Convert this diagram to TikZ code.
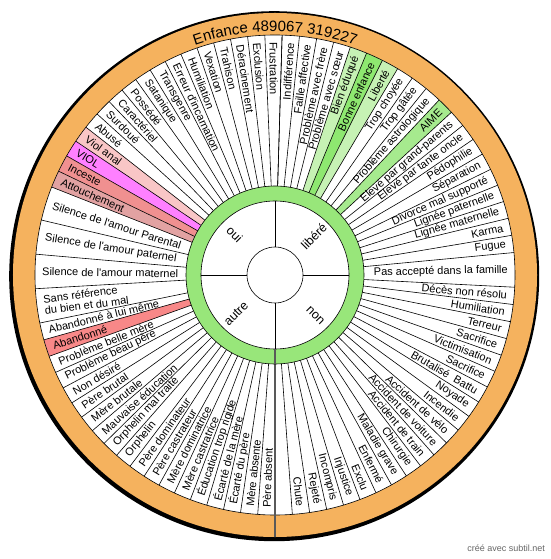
\documentclass[tikz,border=0pt]{standalone}
\usepackage{fontspec}
\setmainfont{Liberation Sans}
\usetikzlibrary{decorations.text}
\definecolor{ringorange}{HTML}{F5B25E}
\definecolor{ringgreen}{HTML}{98E67A}
\definecolor{lgreen}{HTML}{C6F2B4}
\definecolor{bgreen}{HTML}{8EE870}
\definecolor{agreen}{HTML}{A6EA8E}
\definecolor{lpink}{HTML}{F9C6C6}
\definecolor{magviol}{HTML}{FF80FF}
\definecolor{salmon}{HTML}{F09090}
\definecolor{dusty}{HTML}{E2A2A2}
\definecolor{redab}{HTML}{F88888}
\newcommand\uR{4.14651}
\newcommand\uL{4.12955}
\newcommand\wedgeR[3]{%
  \pgfmathsetmacro\aS{88.3-(#1)*\uR}%
  \pgfmathsetmacro\aE{88.3-(#1+#2)*\uR}%
  \fill[#3] (\aS:89) arc[start angle=\aS,end angle=\aE,radius=89] -- (\aE:240) arc[start angle=\aE,end angle=\aS,radius=240] -- cycle;}
\newcommand\wedgeL[3]{%
  \pgfmathsetmacro\aS{88.3+(#1)*\uL}%
  \pgfmathsetmacro\aE{88.3+(#1+#2)*\uL}%
  \fill[#3] (\aS:89) arc[start angle=\aS,end angle=\aE,radius=89] -- (\aE:240) arc[start angle=\aE,end angle=\aS,radius=240] -- cycle;}
\newcommand\segR[3]{%
  \pgfmathsetmacro\aS{88.3-(#1)*\uR}%
  \pgfmathsetmacro\aE{88.3-(#1+#2)*\uR}%
  \pgfmathsetmacro\aM{(\aS+\aE)/2}%
  \draw[segline] (\aS:89) -- (\aS:240);
  \node[lbl,anchor=east,rotate=\aM,align=right] (R#1) at (\aM:234) {#3};}
\newcommand\segL[3]{%
  \pgfmathsetmacro\aS{88.3+(#1)*\uL}%
  \pgfmathsetmacro\aE{88.3+(#1+#2)*\uL}%
  \pgfmathsetmacro\aM{(\aS+\aE)/2}%
  \pgfmathsetmacro\aR{\aM-180}%
  \draw[segline] (\aS:89) -- (\aS:240);
  \node[lbl,anchor=west,rotate=\aR,align=left] (L#1) at (\aM:234) {#3};}
\begin{document}
\begin{tikzpicture}[x=1pt,y=1pt,
  segline/.style={line width=0.6pt,black},
  lbl/.style={font=\fontsize{11}{11.5}\selectfont,inner sep=1pt},
  qlbl/.style={font=\fontsize{12.5}{13}\selectfont,inner sep=0pt}]
\useasboundingbox (-275,-284) rectangle (275,275);
% outer rings
\fill[black] (-0.8,-1.2) circle (265);
\fill[ringorange] (0,0) circle (262);
\fill[white] (0,0) circle (240);
% coloured wedges
\wedgeR{4}{1}{lgreen}
\wedgeR{5}{1}{bgreen}
\wedgeR{6}{1}{lgreen}
\wedgeR{10}{1}{agreen}
\wedgeL{13}{1}{lpink}
\wedgeL{14}{1}{magviol}
\wedgeL{15}{1}{salmon}
\wedgeL{16}{1}{dusty}
\wedgeL{26}{1}{redab}
% right half
\segR{0}{1}{Indifférence}
\segR{1}{1}{Faille affective}
\segR{2}{1}{Problème avec frère}
\segR{3}{1}{Problème avec sœur}
\segR{4}{1}{Bien éduqué}
\segR{5}{1}{Bonne enfance}
\segR{6}{1}{Liberté}
\segR{7}{1}{Trop choyée}
\segR{8}{1}{Trop gâtée}
\segR{9}{1}{Problème astrologique}
\segR{10}{1}{AIME}
\segR{11}{1}{Elevé par grand-parents}
\segR{12}{1}{Elevé par tante oncle}
\segR{13}{1}{Pédophilie}
\segR{14}{1}{Séparation}
\segR{15}{1}{Divorce mal supporté}
\segR{16}{1}{Lignée paternelle}
\segR{17}{1}{Lignée maternelle}
\segR{18}{1}{Karma}
\segR{19}{1}{Fugue}
\segR{20}{2}{Pas accepté dans la famille}
\segR{22}{1}{Décès non résolu}
\segR{23}{1}{Humiliation}
\segR{24}{1}{Terreur}
\segR{25}{1}{Sacrifice}
\segR{26}{1}{Victimisation}
\segR{27}{1}{Sacrifice}
\segR{28}{1}{Brutalisé~~Battu}
\segR{29}{1}{Noyade}
\segR{30}{1}{Incendie}
\segR{31}{1}{Accident de vélo}
\segR{32}{1}{Accident de voiture}
\segR{33}{1}{Accident de train}
\segR{34}{1}{Chirurgie}
\segR{35}{1}{Maladie grave}
\segR{36}{1}{Enfermé}
\segR{37}{1}{Exclu}
\segR{38}{1}{Injustice}
\segR{39}{1}{Incompris}
\segR{40}{1}{Rejeté}
\segR{41}{1}{Chute}
\segR{42}{1}{}
% left half
\segL{0}{1}{Frustration}
\segL{1}{1}{Exclusion}
\segL{2}{1}{Déracinement}
\segL{3}{1}{Trahison}
\segL{4}{1}{Vexation}
\segL{5}{1}{Humiliation}
\segL{6}{1}{Erreur d\textquotesingle incarnation}
\segL{7}{1}{Transgenre}
\segL{8}{1}{Satanique}
\segL{9}{1}{Possédé}
\segL{10}{1}{Caractériel}
\segL{11}{1}{Surdoué}
\segL{12}{1}{Abusé}
\segL{13}{1}{Viol anal}
\segL{14}{1}{VIOL}
\segL{15}{1}{Inceste}
\segL{16}{1}{Attouchement}
\segL{17}{2}{Silence de l\textquotesingle amour Parental}
\segL{19}{2}{Silence de l\textquotesingle amour paternel}
\segL{21}{2}{Silence de l\textquotesingle amour maternel}
\segL{23}{2}{Sans référence\\du bien et du mal}
\segL{25}{1}{Abandonné à lui même}
\segL{26}{1}{Abandonné}
\segL{27}{1}{Problème belle mère}
\segL{28}{1}{Problème beau père}
\segL{29}{1}{Non désiré}
\segL{30}{1}{Père brutal}
\segL{31}{1}{Mère brutale}
\segL{32}{1}{Mauvaise éducation}
\segL{33}{1}{Orphelin mal traité}
\segL{34}{1}{Orphelin}
\segL{35}{1}{Père dominateur}
\segL{36}{1}{Père castrateur}
\segL{37}{1}{Mère dominatrice}
\segL{38}{1}{Mère castratrice}
\segL{39}{1}{Éducation trop rigide}
\segL{40}{1}{Écarté de la mère}
\segL{41}{1}{Écarté du père}
\segL{42}{1}{Mère absente}
\segL{43}{1}{Père absent}
% inner boundary of orange ring
\draw[line width=0.6pt] (0,0) circle (240);
% bottom divider
\coordinate (divA) at (0,-74);
\coordinate (divB) at (0,-262);
\draw[line width=1.2pt,black!65] (divA) -- (divB);
% green ring and centre
\fill[ringgreen] (0,0) circle (89);
\fill[white] (0,0) circle (74);
\draw[line width=0.6pt] (0,0) circle (89);
\draw[line width=0.6pt] (0,0) circle (74);
\draw[line width=1.2pt,black!65] (divA) -- (0,-89);
\node[draw,circle,minimum size=56pt,inner sep=0pt,line width=0.6pt] (ctr) at (0,0) {};
\draw[line width=0.6pt] (ctr.east) -- (74,0);
\draw[line width=0.6pt] (ctr.west) -- (-74,0);
\draw[line width=0.6pt] (ctr.north) -- (0,74);
\draw[line width=0.6pt] (ctr.south) -- (divA);
\node[qlbl,rotate=-45] (qoui) at (135:57) {oui};
\node[qlbl,rotate=45] (qlib) at (45:55) {libéré};
\node[qlbl,rotate=-45] (qnon) at (-45:57) {non};
\node[qlbl,rotate=45] (qaut) at (225:55) {autre};
% title
\path[decorate,decoration={text along path,text align=center,
  text={|\fontsize{15}{16}\selectfont|Enfance 489067 319227}}]
  (125:243.5) arc[start angle=125,end angle=55,radius=243.5];
\node[font=\fontsize{9}{10}\selectfont,text=black!60,anchor=east,inner sep=0pt] (credit) at (270,-273) {créé avec subtil.net};
\end{tikzpicture}
\end{document}
